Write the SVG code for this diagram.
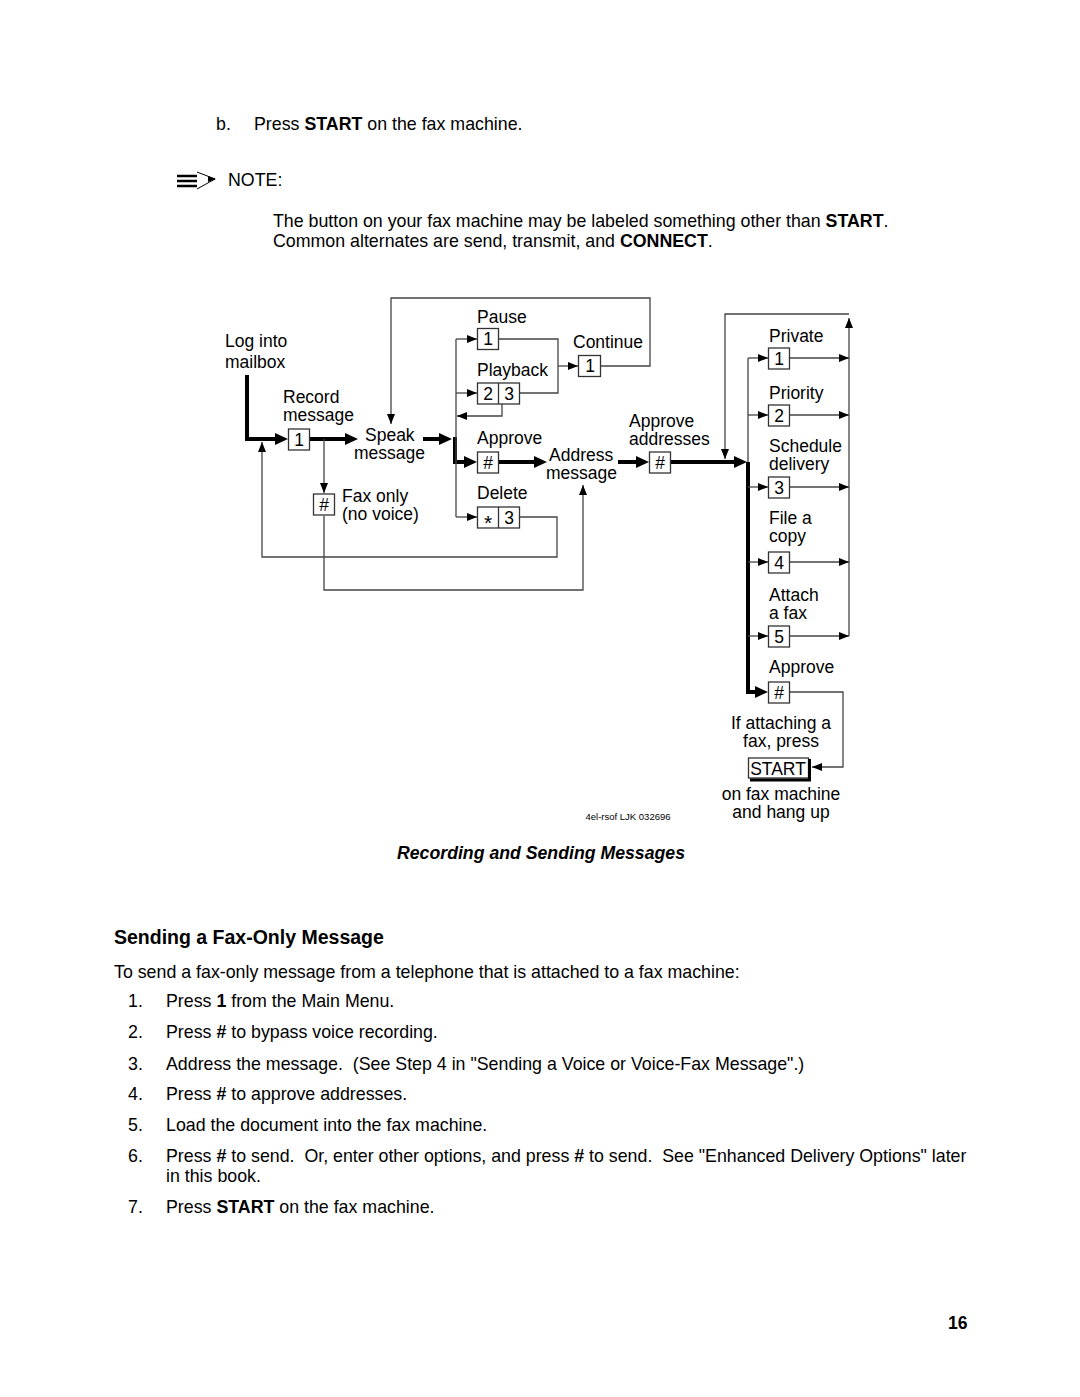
<svg xmlns="http://www.w3.org/2000/svg" width="1080" height="1397" viewBox="0 0 1080 1397">
<style>
text{font-family:"Liberation Sans",Arial,sans-serif;font-size:17.5px;fill:#000}
.body{font-size:17.8px}
.b{font-weight:bold}
.c{text-anchor:middle}
.thin{fill:none;stroke:#444;stroke-width:1.3}
.thick{fill:none;stroke:#000;stroke-width:4}
.box{fill:#fff;stroke:#333;stroke-width:1.3}
.cap{font-weight:bold;font-style:italic;font-size:17.7px}
.small{font-size:9.5px}
</style>
<defs>
<marker id="a" markerUnits="userSpaceOnUse" markerWidth="10" markerHeight="8" refX="10" refY="4" orient="auto"><path d="M0,0 L10,4 L0,8 z" fill="#000"/></marker>
<marker id="A" markerUnits="userSpaceOnUse" markerWidth="14" markerHeight="12" refX="4" refY="6" orient="auto"><path d="M0,0 L13,6 L0,12 z" fill="#000"/></marker>
</defs>
<rect width="1080" height="1397" fill="#fff"/>

<g id="page-text">
<text class="body" x="216" y="130">b.</text>
<text class="body" x="254" y="130">Press <tspan class="b">START</tspan> on the fax machine.</text>
<g id="note-icon">
<path d="M177,176 H197 M177,181 H197 M177,186 H197" stroke="#000" stroke-width="2.4"/>
<path d="M197,172 L215,179 L197,189" fill="none" stroke="#000" stroke-width="1"/>
<path d="M208,176 L216,179 L208,182 z" fill="#000"/>
</g>
<text class="body" x="228" y="186">NOTE:</text>
<text class="body" x="273" y="227">The button on your fax machine may be labeled something other than <tspan class="b">START</tspan>.</text>
<text class="body" x="273" y="247">Common alternates are send, transmit, and <tspan class="b">CONNECT</tspan>.</text>
</g>

<g id="connectors">
<path class="thick" d="M247,375 V439 H279" marker-end="url(#A)"/>
<path class="thick" d="M309,439 H349" marker-end="url(#A)"/>
<path class="thick" d="M423,439 H443" marker-end="url(#A)"/>
<path class="thick" d="M455,437 V462 H468" marker-end="url(#A)"/>
<path class="thick" d="M498,462 H538" marker-end="url(#A)"/>
<path class="thick" d="M618,462 H640" marker-end="url(#A)"/>
<path class="thick" d="M671,462 H738" marker-end="url(#A)"/>
<path class="thick" d="M748,462 V692 H759" marker-end="url(#A)"/>

<path class="thin" d="M601,366 H650 V298 H391 V424" marker-end="url(#a)"/>
<path class="thin" d="M499,339 H558 V393 H520"/>
<path class="thin" d="M558,366 H578" marker-end="url(#a)"/>
<path class="thin" d="M456,339 V517"/>
<path class="thin" d="M456,339 H477" marker-end="url(#a)"/>
<path class="thin" d="M456,393 H477" marker-end="url(#a)"/>
<path class="thin" d="M456,517 H477" marker-end="url(#a)"/>
<path class="thin" d="M502,404 V416 H457" marker-end="url(#a)"/>
<path class="thin" d="M520,517 H557 V557 H262 V442" marker-end="url(#a)"/>
<path class="thin" d="M324,439 V493" marker-end="url(#a)"/>
<path class="thin" d="M324,516 V590 H583 V485" marker-end="url(#a)"/>

<path class="thin" d="M849,636 V318" marker-end="url(#a)"/>
<path class="thin" d="M849,314 H725 V459" marker-end="url(#a)"/>
<path class="thin" d="M748,358 V462"/>
<path class="thin" d="M748,358 H768" marker-end="url(#a)"/>
<path class="thin" d="M748,415 H768" marker-end="url(#a)"/>
<path class="thin" d="M748,487 H768" marker-end="url(#a)"/>
<path class="thin" d="M748,562 H768" marker-end="url(#a)"/>
<path class="thin" d="M748,636 H768" marker-end="url(#a)"/>
<path class="thin" d="M790,358 H849" marker-end="url(#a)"/>
<path class="thin" d="M790,415 H849" marker-end="url(#a)"/>
<path class="thin" d="M790,487 H849" marker-end="url(#a)"/>
<path class="thin" d="M790,562 H849" marker-end="url(#a)"/>
<path class="thin" d="M790,636 H849" marker-end="url(#a)"/>
<path class="thin" d="M790,692 H843 V767 H812" marker-end="url(#a)"/>
</g>

<g id="n-login"><text x="225" y="347">Log into</text><text x="225" y="368">mailbox</text></g>
<g id="n-record"><text x="283" y="403">Record</text><text x="283" y="421">message</text>
<rect class="box" x="288.5" y="429" width="21" height="21"/><text class="c" x="299" y="446">1</text></g>
<g id="n-speak"><text x="365" y="441">Speak</text><text x="354" y="459">message</text></g>
<g id="n-faxonly"><rect class="box" x="313.5" y="494" width="21" height="21"/><text class="c" x="324" y="511">#</text>
<text x="342" y="502">Fax only</text><text x="342" y="520">(no voice)</text></g>
<g id="n-pause"><text x="477" y="323">Pause</text>
<rect class="box" x="477.5" y="328.5" width="21" height="21"/><text class="c" x="488" y="345">1</text></g>
<g id="n-continue"><text x="573" y="348">Continue</text>
<rect class="box" x="578.5" y="355.5" width="22" height="21"/><text class="c" x="590" y="372">1</text></g>
<g id="n-playback"><text x="477" y="376">Playback</text>
<rect class="box" x="477.5" y="383" width="42" height="21"/><line x1="498.5" y1="383" x2="498.5" y2="404" stroke="#333" stroke-width="1.3"/>
<text class="c" x="488" y="400">2</text><text class="c" x="509" y="400">3</text></g>
<g id="n-approve"><text x="477" y="444">Approve</text>
<rect class="box" x="477.5" y="452" width="21" height="21"/><text class="c" x="488" y="469">#</text></g>
<g id="n-address"><text x="549" y="461">Address</text><text x="546" y="479">message</text></g>
<g id="n-delete"><text x="477" y="499">Delete</text>
<rect class="box" x="477.5" y="507" width="42" height="21"/><line x1="498.5" y1="507" x2="498.5" y2="528" stroke="#333" stroke-width="1.3"/>
<text class="c" x="488" y="530" style="font-size:21px">*</text><text class="c" x="509" y="524">3</text></g>
<g id="n-approve-addr"><text x="629" y="427">Approve</text><text x="629" y="445">addresses</text>
<rect class="box" x="649.5" y="452" width="21" height="21"/><text class="c" x="660" y="469">#</text></g>
<g id="n-private"><text x="769" y="342">Private</text>
<rect class="box" x="768.5" y="348" width="21" height="21"/><text class="c" x="779" y="365">1</text></g>
<g id="n-priority"><text x="769" y="399">Priority</text>
<rect class="box" x="768.5" y="405" width="21" height="21"/><text class="c" x="779" y="422">2</text></g>
<g id="n-schedule"><text x="769" y="452">Schedule</text><text x="769" y="470">delivery</text>
<rect class="box" x="768.5" y="477" width="21" height="21"/><text class="c" x="779" y="494">3</text></g>
<g id="n-file"><text x="769" y="524">File a</text><text x="769" y="542">copy</text>
<rect class="box" x="768.5" y="552" width="21" height="21"/><text class="c" x="779" y="569">4</text></g>
<g id="n-attach"><text x="769" y="601">Attach</text><text x="769" y="619">a fax</text>
<rect class="box" x="768.5" y="626" width="21" height="21"/><text class="c" x="779" y="643">5</text></g>
<g id="n-approve-final"><text x="769" y="673">Approve</text>
<rect class="box" x="768.5" y="682" width="21" height="21"/><text class="c" x="779" y="699">#</text></g>
<g id="n-start"><text class="c" x="781" y="729">If attaching a</text><text class="c" x="781" y="747">fax, press</text>
<rect class="box" x="748.5" y="758" width="60" height="20"/>
<path d="M809.5,759 V780 H750" fill="none" stroke="#000" stroke-width="3"/>
<text class="c" x="778" y="775">START</text>
<text class="c" x="781" y="800">on fax machine</text><text class="c" x="781" y="818">and hang up</text></g>
<text class="small c" x="628" y="820">4el-rsof LJK 032696</text>
<text class="cap c" x="541" y="859">Recording and Sending Messages</text>

<g id="section">
<text class="b" x="114" y="944" style="font-size:19.5px">Sending a Fax-Only Message</text>
<text class="body" x="114" y="978">To send a fax-only message from a telephone that is attached to a fax machine:</text>
<text class="body" x="128" y="1007">1.</text><text class="body" x="166" y="1007">Press <tspan class="b">1</tspan> from the Main Menu.</text>
<text class="body" x="128" y="1038">2.</text><text class="body" x="166" y="1038">Press <tspan class="b">#</tspan> to bypass voice recording.</text>
<text class="body" x="128" y="1070">3.</text><text class="body" x="166" y="1070" xml:space="preserve">Address the message.  (See Step 4 in "Sending a Voice or Voice-Fax Message".)</text>
<text class="body" x="128" y="1100">4.</text><text class="body" x="166" y="1100">Press <tspan class="b">#</tspan> to approve addresses.</text>
<text class="body" x="128" y="1131">5.</text><text class="body" x="166" y="1131">Load the document into the fax machine.</text>
<text class="body" x="128" y="1162">6.</text><text class="body" x="166" y="1162" xml:space="preserve">Press <tspan class="b">#</tspan> to send.  Or, enter other options, and press <tspan class="b">#</tspan> to send.  See "Enhanced Delivery Options" later</text>
<text class="body" x="166" y="1182">in this book.</text>
<text class="body" x="128" y="1213">7.</text><text class="body" x="166" y="1213">Press <tspan class="b">START</tspan> on the fax machine.</text>
<text class="b" x="948" y="1329">16</text>
</g>
</svg>
